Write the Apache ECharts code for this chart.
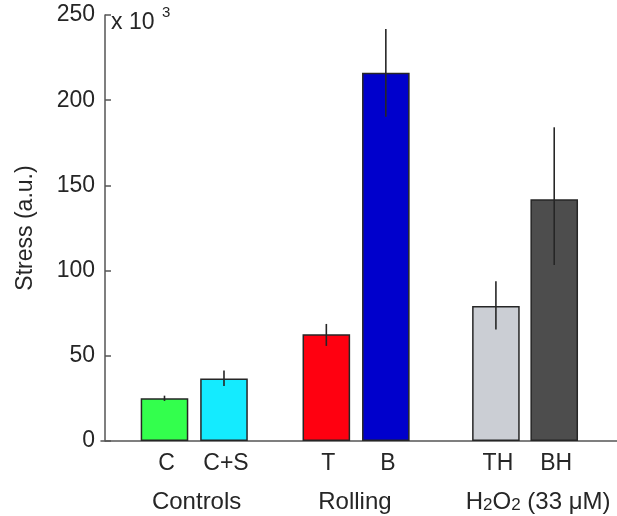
<!DOCTYPE html>
<html>
<head>
<meta charset="utf-8">
<script src="https://cdn.jsdelivr.net/npm/echarts@6/dist/echarts.min.js"></script>
<style>
html,body{margin:0;padding:0;background:#fff;}
#chart{width:617px;height:516px;}
</style>
</head>
<body>
<div id="chart"></div>
<script>
// ---- data ----
var categories = ['C', 'C+S', 'T', 'B', 'TH', 'BH'];
var xPositions = [1, 2, 3.72, 4.72, 6.57, 7.55];
var values = [25.1, 36.7, 62.6, 216.1, 79.2, 141.8];
var errLow = [23.5, 32.3, 55.8, 190.3, 65.5, 103.3];
var errHigh = [26.6, 41.3, 68.7, 241.8, 93.7, 184.1];
var groupNames = ['Controls', 'Rolling', 'H2O2 (33 μM)'];
var groupX = [1.54, 4.2, 7.28];
var yTickValues = [0, 50, 100, 150, 200, 250];
var yScaleLabel = 'x 10';
var yScaleExp = '3';
var yAxisTitle = 'Stress (a.u.)';

// ---- styles ----
var barColors = ['#33ff4d', '#14ebff', '#ff0010', '#0000cc', '#cbced4', '#4d4d4d'];
var FONT = '"Liberation Sans", Arial, sans-serif';
var textColor = '#262626';
var axisColor = '#555555';

var barData = values.map(function (v, i) {
  return { value: [xPositions[i], v], itemStyle: { color: barColors[i] } };
});
var errData = values.map(function (v, i) { return [xPositions[i], errLow[i], errHigh[i]]; });
var catData = categories.map(function (c, i) { return [xPositions[i], 0, c]; });
var grpData = groupNames.map(function (g, i) { return [groupX[i], 0, g]; });

function groupText(s) {
  if (s.indexOf('H2O2') === 0) {
    return '{n|H}{s|2}{n|O}{s|2}{n|' + s.slice(4) + '}';
  }
  return '{n|' + s + '}';
}

var chart = echarts.init(document.getElementById('chart'), null, { renderer: 'canvas' });
chart.setOption({
  animation: false,
  backgroundColor: '#ffffff',
  grid: { left: 101, right: 0, top: 15, bottom: 75, containLabel: false },
  xAxis: {
    type: 'value',
    min: -0.067,
    max: 8.605,
    axisLine: { show: true, onZero: false, lineStyle: { color: axisColor, width: 1.5 } },
    axisTick: { show: false },
    axisLabel: { show: false },
    splitLine: { show: false }
  },
  yAxis: {
    type: 'value',
    min: yTickValues[0],
    max: yTickValues[yTickValues.length - 1],
    interval: yTickValues[1] - yTickValues[0],
    name: yAxisTitle,
    nameLocation: 'middle',
    nameGap: 64,
    nameTextStyle: { fontFamily: FONT, fontSize: 23, color: textColor },
    axisLine: { show: true, lineStyle: { color: axisColor, width: 1.5 } },
    axisTick: { show: true, inside: true, length: 6, lineStyle: { color: axisColor, width: 1.5 } },
    axisLabel: { margin: 6, fontFamily: FONT, fontSize: 23, color: textColor },
    splitLine: { show: false }
  },
  graphic: [
    { type: 'text', left: 111, top: 11, style: { text: yScaleLabel, fontFamily: FONT, fontSize: 23, fill: textColor } },
    { type: 'text', left: 162, top: 5, style: { text: yScaleExp, fontFamily: FONT, fontSize: 15, fill: textColor } }
  ],
  series: [
    {
      type: 'bar',
      data: barData,
      barWidth: 47.6,
      itemStyle: { borderColor: '#262626', borderWidth: 1.5 },
      z: 2
    },
    {
      type: 'custom',
      data: errData,
      z: 3,
      renderItem: function (params, api) {
        var p1 = api.coord([api.value(0), api.value(1)]);
        var p2 = api.coord([api.value(0), api.value(2)]);
        return {
          type: 'line',
          shape: { x1: p1[0], y1: p1[1], x2: p2[0], y2: p2[1] },
          style: { stroke: '#262626', lineWidth: 1.6 }
        };
      }
    },
    {
      type: 'custom',
      data: catData,
      z: 3,
      clip: false,
      renderItem: function (params, api) {
        var p = api.coord([api.value(0), 0]);
        return {
          type: 'text',
          style: {
            text: categories[params.dataIndex],
            x: p[0] + 2, y: p[1] + 23,
            align: 'center', verticalAlign: 'middle',
            fontFamily: FONT, fontSize: 23, fill: textColor
          }
        };
      }
    },
    {
      type: 'custom',
      data: grpData,
      z: 3,
      clip: false,
      renderItem: function (params, api) {
        var p = api.coord([api.value(0), 0]);
        return {
          type: 'text',
          style: {
            text: groupText(groupNames[params.dataIndex]),
            x: p[0], y: p[1] + 59,
            align: 'center', verticalAlign: 'middle',
            fill: textColor,
            rich: {
              n: { fontFamily: FONT, fontSize: 24, color: textColor, lineHeight: 28, verticalAlign: 'bottom' },
              s: { fontFamily: FONT, fontSize: 17, color: textColor, lineHeight: 24, verticalAlign: 'bottom' }
            }
          }
        };
      }
    }
  ]
});
</script>
</body>
</html>
